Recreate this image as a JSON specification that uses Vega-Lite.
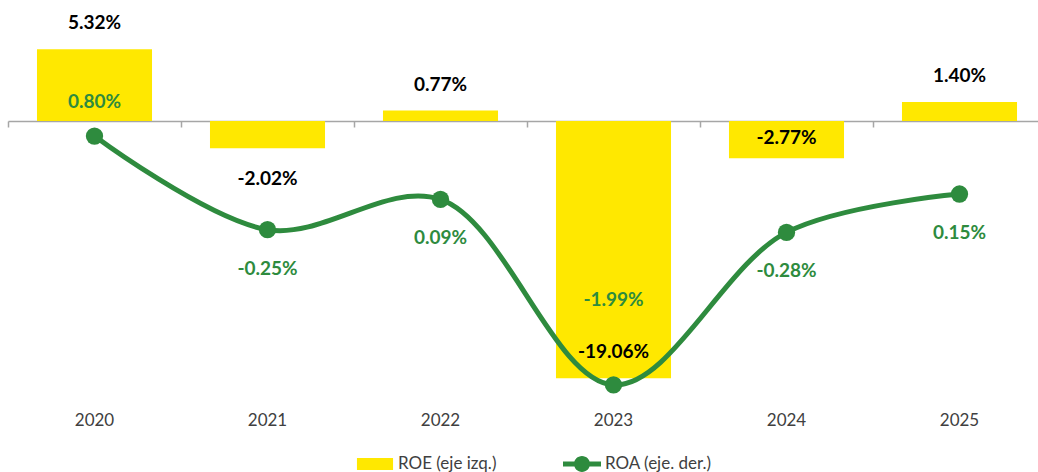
{
  "$schema": "https://vega.github.io/schema/vega-lite/v6.json",
  "width": 1030,
  "height": 400,
  "autosize": {"type": "none"},
  "padding": {"left": 8, "top": 0, "right": 0, "bottom": 72},
  "background": "white",
  "config": {"view": {"stroke": null}},
  "data": {"values": [
    {"year": "2020", "roe": 5.32, "roa": 0.80},
    {"year": "2021", "roe": -2.02, "roa": -0.25},
    {"year": "2022", "roe": 0.77, "roa": 0.09},
    {"year": "2023", "roe": -19.06, "roa": -1.99},
    {"year": "2024", "roe": -2.77, "roa": -0.28},
    {"year": "2025", "roe": 1.40, "roa": 0.15}
  ]},
  "transform": [
    {"calculate": "(datum.roe < 0 ? '-' : '') + format(abs(datum.roe), '.2f') + '%'", "as": "roe_lbl"},
    {"calculate": "(datum.roa < 0 ? '-' : '') + format(abs(datum.roa), '.2f') + '%'", "as": "roa_lbl"}
  ],
  "layer": [
    {
      "encoding": {
        "x": {"field": "year", "type": "nominal", "title": null,
          "scale": {"range": [0, 1038], "paddingInner": 0, "paddingOuter": 0},
          "axis": {"orient": "bottom", "offset": -279, "labels": false, "domain": true, "domainColor": "#a6a6a6", "domainWidth": 1.5, "ticks": true, "tickColor": "#a6a6a6", "tickWidth": 1.5, "tickSize": 6, "bandPosition": 0, "grid": false, "title": null}},
        "y": {"field": "roe", "type": "quantitative", "scale": {"domain": [-20.67, 8.96], "nice": false, "zero": false}, "axis": null}
      },
      "layer": [
        {
          "mark": {"type": "bar", "width": {"band": 0.665}},
          "encoding": {
            "color": {"datum": "ROE (eje izq.)",
              "scale": {"domain": ["ROE (eje izq.)", "ROA (eje. der.)"], "range": ["#FFE800", "#2E8B3E"]},
              "legend": {
                "orient": "none", "legendX": 348, "legendY": 445, "direction": "horizontal", "title": null,
                "symbolSize": 1444, "labelFont": "Lato", "labelFontSize": 17, "labelColor": "#404040",
                "columnPadding": 66, "labelOffset": 4,
                "encode": {"symbols": {"update": {
                  "shape": {"signal": "datum.value === 'ROE (eje izq.)' ? 'M-0.95,-0.32H0.95V0.32H-0.95Z' : 'M-1,-0.13H1V0.13H-1Z M0.42,0 A0.42,0.42 0 1 1 -0.42,0 A0.42,0.42 0 1 1 0.42,0 Z'"},
                  "fill": {"scale": "color", "field": "value"},
                  "strokeWidth": {"value": 0},
                  "opacity": {"value": 1}
                }}}
              }}
          }
        },
        {
          "transform": [{"filter": "datum.year == '2020' || datum.year == '2022' || datum.year == '2025'"}],
          "mark": {"type": "text", "dy": -26, "font": "Lato", "fontSize": 19, "fontWeight": "bold", "color": "#000000", "baseline": "middle"},
          "encoding": {"text": {"field": "roe_lbl"}}
        },
        {
          "transform": [{"filter": "datum.year == '2021'"}],
          "mark": {"type": "text", "dy": 31, "font": "Lato", "fontSize": 19, "fontWeight": "bold", "color": "#000000", "baseline": "middle"},
          "encoding": {"text": {"field": "roe_lbl"}}
        },
        {
          "transform": [{"filter": "datum.year == '2023'"}],
          "mark": {"type": "text", "dy": -26, "font": "Lato", "fontSize": 19, "fontWeight": "bold", "color": "#000000", "baseline": "middle"},
          "encoding": {"text": {"field": "roe_lbl"}}
        },
        {
          "transform": [{"filter": "datum.year == '2024'"}],
          "mark": {"type": "text", "dy": -20, "font": "Lato", "fontSize": 19, "fontWeight": "bold", "color": "#000000", "baseline": "middle"},
          "encoding": {"text": {"field": "roe_lbl"}}
        }
      ]
    },
    {
      "encoding": {
        "x": {"field": "year", "type": "nominal", "title": null,
          "scale": {"range": [0, 1038], "paddingInner": 0, "paddingOuter": 0},
          "axis": {"orient": "bottom", "domain": false, "ticks": false, "grid": false, "labelPadding": 12, "labelAngle": 0, "labelFont": "Lato", "labelFontSize": 17, "labelColor": "#404040", "title": null}},
        "y": {"field": "roa", "type": "quantitative", "scale": {"domain": [-2.159, 2.325], "nice": false, "zero": false}, "axis": null}
      },
      "layer": [
        {
          "mark": {"type": "line", "interpolate": "catmull-rom", "strokeWidth": 5},
          "encoding": {"color": {"datum": "ROA (eje. der.)"}}
        },
        {
          "mark": {"type": "point", "filled": true, "size": 300, "opacity": 1},
          "encoding": {"color": {"datum": "ROA (eje. der.)"}}
        },
        {
          "transform": [{"filter": "datum.year == '2020'"}],
          "mark": {"type": "text", "dy": -34, "font": "Lato", "fontSize": 19, "fontWeight": "bold", "color": "#2E8B3E", "baseline": "middle"},
          "encoding": {"text": {"field": "roa_lbl"}}
        },
        {
          "transform": [{"filter": "datum.year == '2023'"}],
          "mark": {"type": "text", "dy": -85, "font": "Lato", "fontSize": 19, "fontWeight": "bold", "color": "#2E8B3E", "baseline": "middle"},
          "encoding": {"text": {"field": "roa_lbl"}}
        },
        {
          "transform": [{"filter": "datum.year != '2020' && datum.year != '2023'"}],
          "mark": {"type": "text", "dy": 39, "font": "Lato", "fontSize": 19, "fontWeight": "bold", "color": "#2E8B3E", "baseline": "middle"},
          "encoding": {"text": {"field": "roa_lbl"}}
        }
      ]
    }
  ],
  "resolve": {"scale": {"y": "independent"}, "axis": {"x": "independent"}}
}
